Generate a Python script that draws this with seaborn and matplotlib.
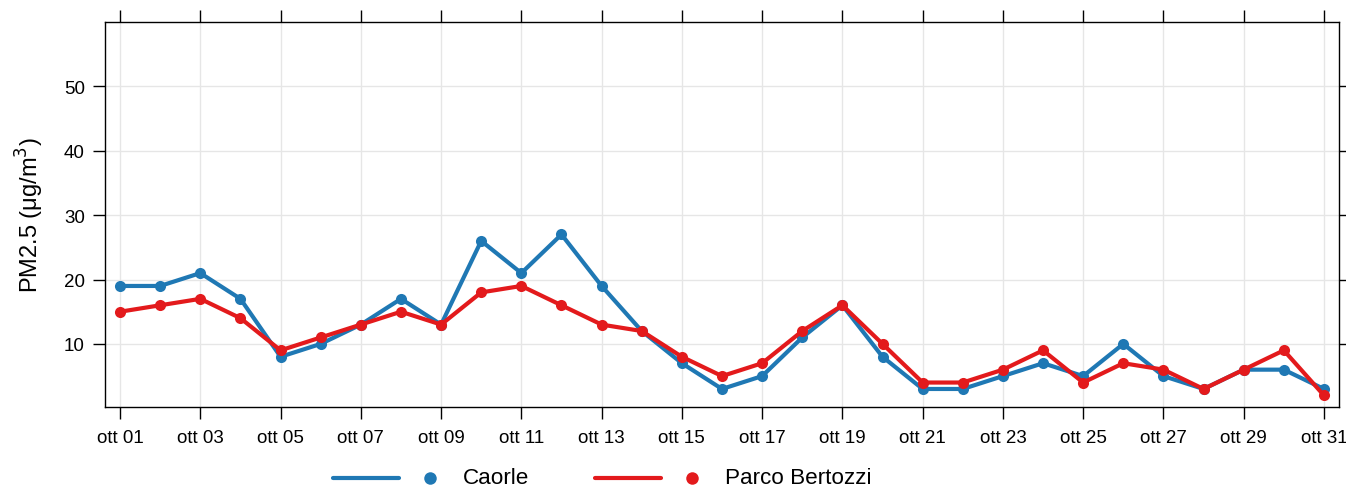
import pandas as pd
import seaborn as sns
import matplotlib
matplotlib.use("Agg")
import matplotlib.pyplot as plt
from matplotlib.lines import Line2D

# Daily PM2.5 values, October
days = pd.date_range("2023-10-01", "2023-10-31", freq="D")
caorle = [19, 19, 21, 17, 8, 10, 13, 17, 13, 26, 21, 27, 19, 12, 7, 3,
          5, 11, 16, 8, 3, 3, 5, 7, 5, 10, 5, 3, 6, 6, 3]
bertozzi = [15, 16, 17, 14, 9, 11, 13, 15, 13, 18, 19, 16, 13, 12, 8, 5,
            7, 12, 16, 10, 4, 4, 6, 9, 4, 7, 6, 3, 6, 9, 2]
series_names = ["Caorle", "Parco Bertozzi"]
colors = ["#1f78b4", "#e31a1c"]
tick_days = days[::2]
tick_labels = [f"ott {d.day:02d}" for d in tick_days]
y_ticks = [10, 20, 30, 40, 50]

df = pd.DataFrame({
    "date": list(days) * 2,
    "value": caorle + bertozzi,
    "site": [series_names[0]] * len(days) + [series_names[1]] * len(days),
})

sns.set_theme(style="white")
plt.rcParams["font.family"] = ["Liberation Sans", "DejaVu Sans"]
plt.rcParams["text.color"] = "black"

fig = plt.figure(figsize=(13.46, 4.89), dpi=100)
ax = fig.add_axes([105 / 1346, 1 - 408 / 489, (1339 - 105) / 1346, (408 - 23) / 489])

sns.lineplot(data=df, x="date", y="value", hue="site", palette=colors,
             marker="o", markersize=8, markeredgewidth=0, linewidth=3,
             legend=False, ax=ax)

pad = pd.Timedelta(hours=9)
ax.set_xlim(days[0] - pad, days[-1] + pad)
ax.set_ylim(0.2, 60)
ax.set_xticks(tick_days)
ax.set_xticklabels(tick_labels)
ax.set_yticks(y_ticks)
ax.set_xlabel("")
ax.set_ylabel("PM2.5 (μg/m$^3$)", fontsize=17, color="black", labelpad=13)

ax.grid(True, color="#e6e6e6", linewidth=1)
ax.set_axisbelow(True)
for s in ax.spines.values():
    s.set_color("black")
    s.set_linewidth(1)
ax.tick_params(axis="both", which="both", direction="out", length=8.5, width=1,
               colors="black", labelsize=13.5, top=True, right=True,
               bottom=True, left=True, labeltop=False, labelright=False)
ax.tick_params(axis="x", pad=7)
ax.tick_params(axis="y", pad=6)

# legend at the bottom: line, dot, label
ly = 1 - 479 / 489
for name, col, x0 in zip(series_names, colors, [333, 595]):
    fig.add_artist(Line2D([x0 / 1346, (x0 + 66) / 1346], [ly, ly],
                          color=col, linewidth=3, solid_capstyle="round",
                          transform=fig.transFigure))
    fig.add_artist(Line2D([(x0 + 97) / 1346], [ly], marker="o", markersize=9,
                          markeredgewidth=0, color=col, linestyle="none",
                          transform=fig.transFigure))
    fig.text((x0 + 130) / 1346, ly, name, fontsize=16.2, color="black",
             va="center", ha="left")

fig.savefig("out.png", dpi=100)
